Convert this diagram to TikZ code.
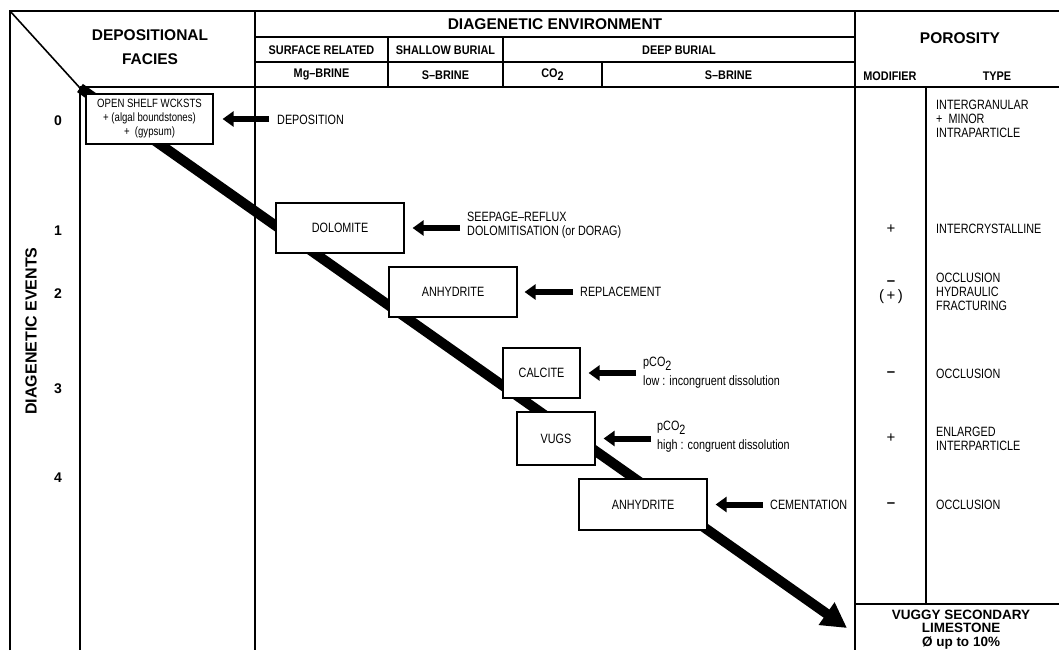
\documentclass[tikz,border=0pt]{standalone}
\usepackage{fontspec}
\setmainfont{Liberation Sans}
\newfontfamily\rfont{Liberation Sans}[FakeStretch=0.8]
\newfontfamily\hfont{Liberation Sans}[FakeStretch=0.87]
\usetikzlibrary{arrows.meta}
\begin{document}
\begin{tikzpicture}[x=1pt,y=-1pt,
  outerline/.style={line width=2.4pt},
  inline/.style={line width=1.6pt},
  thinline/.style={line width=1.3pt},
  box/.style={draw, line width=1.2pt, fill=white, inner sep=0pt, align=center,
    font=\rfont\fontsize{13.5}{14}\selectfont},
  lbl/.style={inner sep=0pt, anchor=west, align=left, font=\rfont\fontsize{13.5}{14}\selectfont},
  modl/.style={inner sep=0pt, align=center, font=\fontsize{15}{15}\selectfont},
  bighd/.style={inner sep=0pt, align=center, font=\bfseries\fontsize{15.5}{24}\selectfont},
  smhd/.style={inner sep=0pt, font=\hfont\bfseries\fontsize{12.5}{14}\selectfont},
  num/.style={inner sep=0pt, font=\bfseries\fontsize{14}{14}\selectfont},
  sarrow/.style={line width=6pt, -{Triangle[length=11pt,width=15pt]}},
  barrow/.style={line width=10pt, -{Triangle[length=25pt,width=26pt]}},
]
\useasboundingbox (0,0) rectangle (1059,650);

% table frame
\draw[outerline] (10,650) -- (10,11) -- (1059,11);
\draw[inline] (10,11) -- (80,88);
\draw[inline] (80,88) -- (80,650);
\draw[inline] (80,87) -- (1059,87);
\draw[inline] (255,11) -- (255,650);
\draw[inline] (855,11) -- (855,650);
\draw[thinline] (255,37) -- (855,37);
\draw[thinline] (255,62) -- (855,62);
\draw[thinline] (388,37) -- (388,87);
\draw[thinline] (503,37) -- (503,87);
\draw[thinline] (602,62) -- (602,87);
\draw[inline] (926,87) -- (926,604);
\draw[inline] (855,604) -- (1059,604);

% headers
\node[bighd] (hdep) at (150,47) {DEPOSITIONAL\\FACIES};
\node[bighd] (henv) at (555,24) {DIAGENETIC ENVIRONMENT};
\node[bighd] (hpor) at (960,38) {POROSITY};
\node[smhd] (hsur) at (321.5,50) {SURFACE RELATED};
\node[smhd] (hsha) at (445.5,50) {SHALLOW BURIAL};
\node[smhd] (hdee) at (679,50) {DEEP BURIAL};
\node[smhd] (hmg) at (321.5,75) {Mg–BRINE};
\node[smhd] (hsb1) at (445.5,75) {S–BRINE};
\node[smhd] (hco) at (552.5,75) {CO\raisebox{-3pt}{2}};
\node[smhd] (hsb2) at (728.5,75) {S–BRINE};
\node[smhd] (hmod) at (890,76) {MODIFIER};
\node[smhd] (htyp) at (997,76) {TYPE};
\node[bighd, rotate=90, font=\bfseries\fontsize{16}{16}\selectfont] (hevt) at (31,331) {DIAGENETIC EVENTS};

% event numbers
\node[num] (n0) at (58,121) {0};
\node[num] (n1) at (58,231) {1};
\node[num] (n2) at (58,294) {2};
\node[num] (n3) at (58,389) {3};
\node[num] (n4) at (58,478) {4};

% main diagonal arrow
\coordinate (s) at (80,88);
\coordinate (e) at (847,628);
\draw[barrow] (s) -- (e);

% boxes
\node[box, minimum width=127pt, minimum height=50pt, font=\rfont\fontsize{12}{14}\selectfont] (b0) at (149.5,119) {OPEN SHELF WCKSTS\\+ (algal boundstones)\\+\ \ (gypsum)};
\node[box, minimum width=128pt, minimum height=50pt] (b1) at (340,228) {DOLOMITE};
\node[box, minimum width=128pt, minimum height=50pt] (b2) at (453,292) {ANHYDRITE};
\node[box, minimum width=77pt, minimum height=50pt] (b3) at (541.5,373) {CALCITE};
\node[box, minimum width=78pt, minimum height=53pt] (b4) at (556,438.5) {VUGS};
\node[box, minimum width=128pt, minimum height=51pt] (b5) at (643,504.5) {ANHYDRITE};

% process labels and arrows
\coordinate (a0) at (269,119);
\coordinate (a1) at (460,228);
\coordinate (a2) at (573,292);
\coordinate (a3) at (636,373);
\coordinate (a4) at (651,438.5);
\coordinate (a5) at (763,504.5);
\draw[sarrow] (a0) -- ([xshift=9pt]b0.east);
\draw[sarrow] (a1) -- ([xshift=8pt]b1.east);
\draw[sarrow] (a2) -- ([xshift=7pt]b2.east);
\draw[sarrow] (a3) -- ([xshift=8pt]b3.east);
\draw[sarrow] (a4) -- ([xshift=8pt]b4.east);
\draw[sarrow] (a5) -- ([xshift=8pt]b5.east);

\node[lbl] (l0) at (277,120) {DEPOSITION};
\node[lbl] (l1) at (467,225) {SEEPAGE–REFLUX\\DOLOMITISATION (or DORAG)};
\node[lbl] (l2) at (580,292) {REPLACEMENT};
\node[lbl] (l3a) at (643,364) {pCO\raisebox{-4pt}{2}};
\node[lbl] (l3b) at (643,382) {low : incongruent dissolution};
\node[lbl] (l4a) at (657,428) {pCO\raisebox{-4pt}{2}};
\node[lbl] (l4b) at (657,446) {high : congruent dissolution};
\node[lbl] (l5) at (770,505) {CEMENTATION};

% porosity columns
\node[lbl] (t0) at (936,119) {INTERGRANULAR\\+\ \ MINOR\\INTRAPARTICLE};
\node[modl] (m1) at (891,229) {+};
\node[modl] (m2) at (891,292) {\textbf{–}\\(\,+\,)};
\node[lbl] (t2) at (936,292) {OCCLUSION\\HYDRAULIC\\FRACTURING};
\node[lbl] (t1) at (936,229) {INTERCRYSTALLINE};
\node[modl] (m3) at (891,374) {\textbf{–}};
\node[lbl] (t3) at (936,374) {OCCLUSION};
\node[modl] (m4) at (891,438) {+};
\node[lbl] (t4) at (936,438.5) {ENLARGED\\INTERPARTICLE};
\node[modl] (m5) at (891,505) {\textbf{–}};
\node[lbl] (t5) at (936,505) {OCCLUSION};
\node[bighd, font=\bfseries\fontsize{13.5}{13.5}\selectfont] (vug) at (961,629.5) {VUGGY SECONDARY\\LIMESTONE\\Ø up to 10\%};
\end{tikzpicture}
\end{document}
